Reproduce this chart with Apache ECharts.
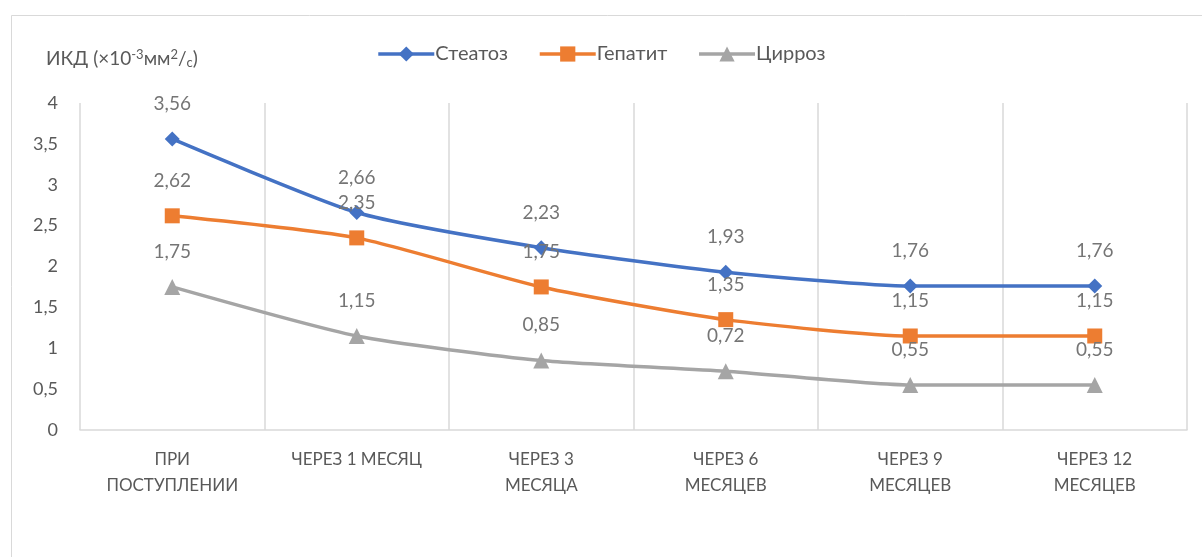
<!DOCTYPE html>
<html>
<head>
<meta charset="utf-8">
<script src="https://cdn.jsdelivr.net/npm/echarts@6/dist/echarts.min.js"></script>
<style>html,body{margin:0;padding:0;background:#fff;}#c{width:1202px;height:557px;}</style>
</head>
<body>
<div id="c"></div>
<script>
const categories = ['ПРИ\nПОСТУПЛЕНИИ', 'ЧЕРЕЗ 1 МЕСЯЦ', 'ЧЕРЕЗ 3\nМЕСЯЦА', 'ЧЕРЕЗ 6\nМЕСЯЦЕВ', 'ЧЕРЕЗ 9\nМЕСЯЦЕВ', 'ЧЕРЕЗ 12\nМЕСЯЦЕВ'];
const steatoz = [3.56, 2.66, 2.23, 1.93, 1.76, 1.76];
const gepatit = [2.62, 2.35, 1.75, 1.35, 1.15, 1.15];
const cirroz = [1.75, 1.15, 0.85, 0.72, 0.55, 0.55];
const seriesNames = ['Стеатоз', 'Гепатит', 'Цирроз'];
const yTicks = {min: 0, max: 4, interval: 0.5};

const FONT = 'Lato, "Open Sans", sans-serif';
const comma = v => String(v).replace('.', ',');
const colors = ['#4472C4', '#ED7D31', '#A5A5A5'];
const symbols = ['diamond', 'rect', 'triangle'];
const sizes = [15, 15, 16];
const data = [steatoz, gepatit, cirroz];

const chart = echarts.init(document.getElementById('c'));
chart.setOption({
  animation: false,
  backgroundColor: '#fff',
  color: colors,
  textStyle: {fontFamily: FONT},
  graphic: [{
    type: 'rect', left: 9, top: 13, shape: {width: 1300, height: 700},
    style: {fill: 'none', stroke: '#d9d9d9', lineWidth: 1}, silent: true
  }],
  title: {
    left: 41, top: 43,
    text: '{a|ИКД (×10}{s|-3}{a|мм}{s|2}{a|/}{b|с}{a|)}',
    textStyle: {
      fontWeight: 'normal',
      rich: {
        a: {fontSize: 19, color: '#595959', fontFamily: FONT, fontWeight: 'normal'},
        s: {fontSize: 13, color: '#595959', fontFamily: FONT, fontWeight: 'normal', verticalAlign: 'top', padding: [0,0,8,0]},
        b: {fontSize: 13, color: '#595959', fontFamily: FONT, fontWeight: 'normal', verticalAlign: 'bottom', padding: [8,0,0,0]}
      }
    }
  },
  legend: {
    top: 39, left: 'center',
    itemWidth: 56, itemHeight: 19, itemGap: 30,
    lineStyle: {width: 3.5},
    textStyle: {fontSize: 20, color: '#595959', fontFamily: FONT, padding: [0,0,0,-4]},
    data: seriesNames
  },
  grid: {left: 80, right: 15, top: 103, bottom: 127},
  xAxis: {
    type: 'category', data: categories, boundaryGap: true,
    axisLine: {show: true, lineStyle: {color: '#d9d9d9', width: 1.5}},
    axisTick: {show: false},
    splitLine: {show: true, lineStyle: {color: '#d9d9d9', width: 1.5}},
    axisLabel: {color: '#595959', fontSize: 17, fontFamily: FONT, lineHeight: 26, margin: 17, interval: 0}
  },
  yAxis: {
    type: 'value', min: yTicks.min, max: yTicks.max, interval: yTicks.interval,
    axisLine: {show: false}, axisTick: {show: false}, splitLine: {show: false},
    axisLabel: {color: '#595959', fontSize: 18, fontFamily: FONT, margin: 22, formatter: v => comma(v)}
  },
  series: seriesNames.map((n, i) => ({
    name: n, type: 'line', data: data[i], smooth: 0.2,
    symbol: symbols[i], symbolSize: sizes[i],
    lineStyle: {width: 3.5, color: colors[i]},
    itemStyle: {color: colors[i]},
    label: {show: true, position: 'top', distance: 18, fontSize: 19, color: '#757575', fontFamily: FONT,
      formatter: p => comma(p.value)}
  }))
});
</script>
</body>
</html>
